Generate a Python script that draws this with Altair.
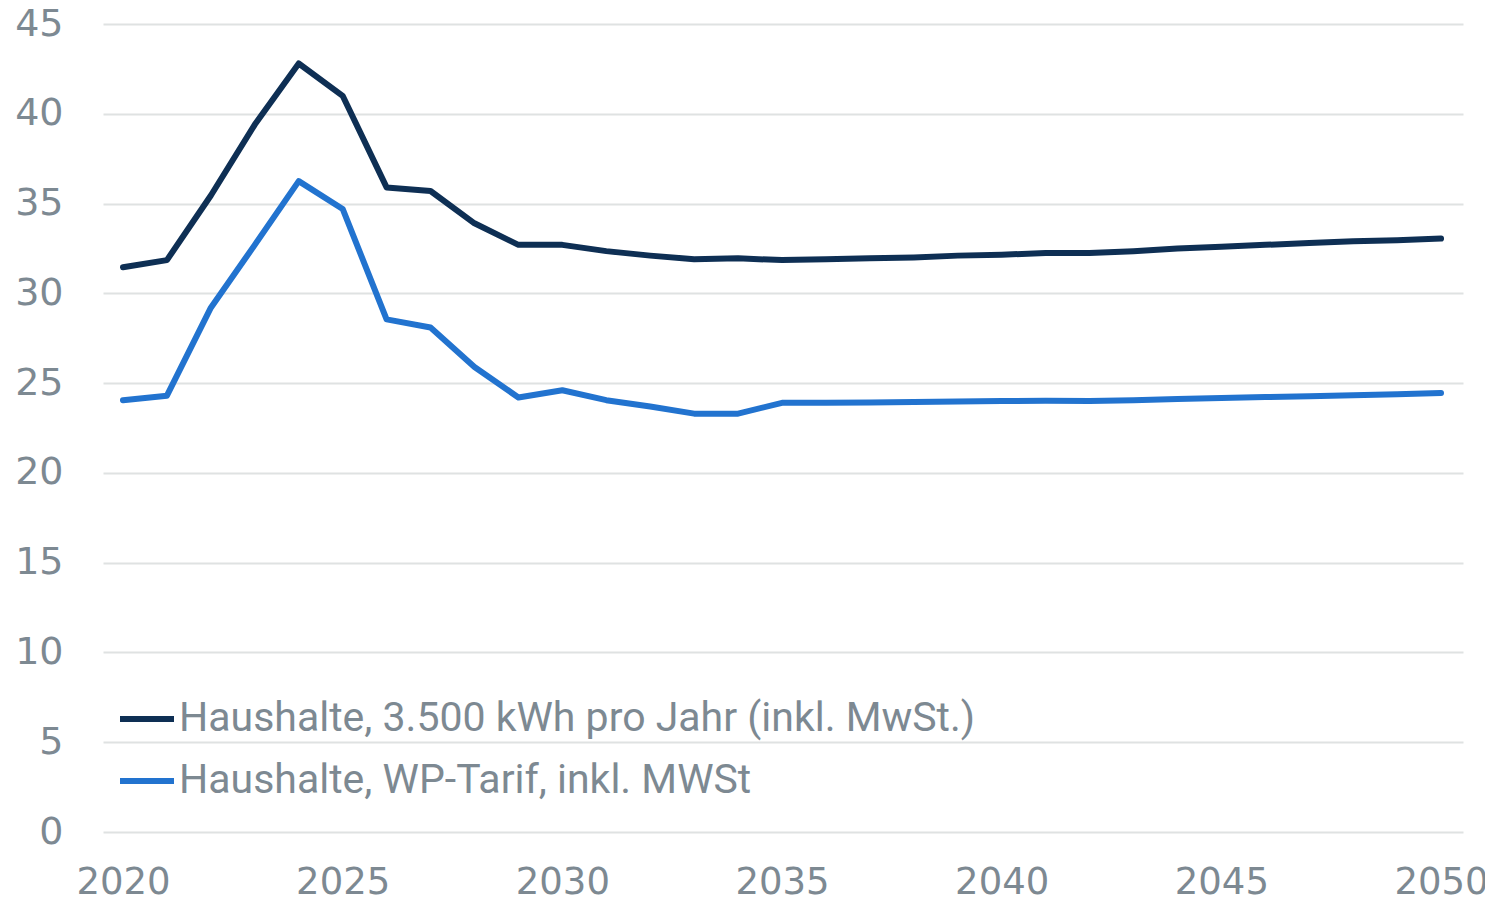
import altair as alt
import pandas as pd

years = list(range(2020, 2051))
s1_name = "Haushalte, 3.500 kWh pro Jahr (inkl. MwSt.)"
s2_name = "Haushalte, WP-Tarif, inkl. MWSt"
s1 = [31.45, 31.85, 35.45, 39.4, 42.8, 41.0, 35.9, 35.7, 33.9, 32.7, 32.7,
      32.35, 32.1, 31.9, 31.95, 31.85, 31.9, 31.95, 32.0, 32.1, 32.15,
      32.25, 32.25, 32.35, 32.5, 32.6, 32.7, 32.8, 32.9, 32.95, 33.05]
s2 = [24.05, 24.3, 29.2, 32.7, 36.25, 34.7, 28.55, 28.1, 25.9, 24.2, 24.6,
      24.05, 23.7, 23.3, 23.3, 23.9, 23.9, 23.92, 23.95, 23.97, 24.0,
      24.02, 24.0, 24.05, 24.12, 24.17, 24.22, 24.27, 24.32, 24.38, 24.45]
x_ticks = [2020, 2025, 2030, 2035, 2040, 2045, 2050]
y_ticks = [0, 5, 10, 15, 20, 25, 30, 35, 40, 45]

df = pd.DataFrame({
    "Jahr": years * 2,
    "Wert": s1 + s2,
    "Serie": [s1_name] * len(years) + [s2_name] * len(years),
})

gray = "#7d8992"

chart = alt.Chart(df).mark_line(strokeWidth=6, strokeCap="round", strokeJoin="round").encode(
    x=alt.X("Jahr:Q",
            scale=alt.Scale(domain=[2019.545, 2050.5], nice=False, zero=False),
            axis=alt.Axis(values=x_ticks, format="d", grid=False, domain=False, ticks=False,
                          labelFontSize=37, labelFont="DejaVu Sans", labelColor=gray,
                          labelBaseline="alphabetic", labelPadding=61,
                          title=None, labelFlush=False)),
    y=alt.Y("Wert:Q",
            scale=alt.Scale(domain=[0, 45], nice=False),
            axis=alt.Axis(values=y_ticks, grid=True, gridColor="#dfe2e2", gridWidth=2,
                          domain=False, ticks=False,
                          labelFontSize=38, labelFont="DejaVu Sans", labelColor=gray,
                          labelPadding=40, title=None)),
    color=alt.Color("Serie:N",
                    scale=alt.Scale(domain=[s1_name, s2_name], range=["#0e2f54", "#2273cf"]),
                    legend=alt.Legend(orient="none", legendX=14, legendY=665, title=None,
                                      symbolType="stroke", symbolSize=2916, symbolStrokeWidth=6,
                                      labelFontSize=41, labelFont="Roboto",
                                      labelColor=gray, labelOffset=2, rowPadding=12,
                                      labelLimit=1000)),
).properties(
    width=1360, height=808,
    padding={"left": 95, "top": 16, "right": 22, "bottom": 64},
    autosize=alt.AutoSizeParams(type="none"),
).configure_view(stroke=None)

chart.save("out.html", embed_options={"renderer": "svg", "actions": False})
